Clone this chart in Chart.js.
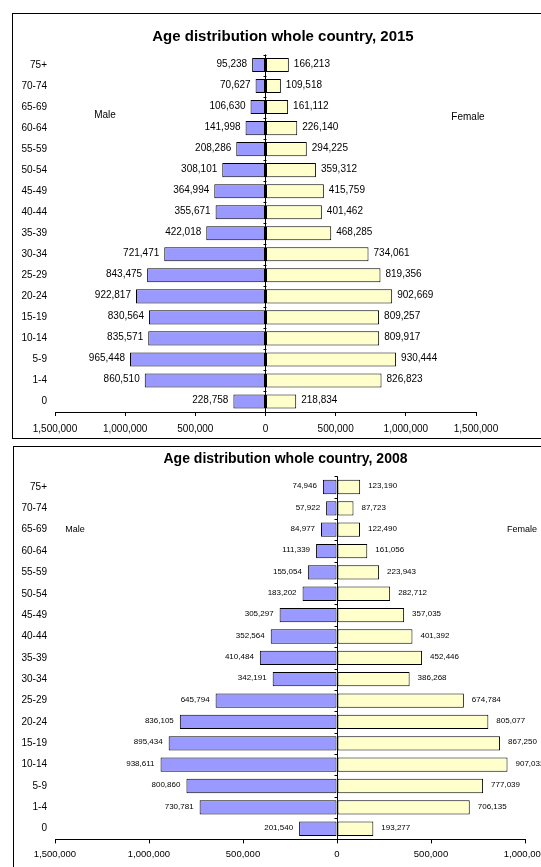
<!DOCTYPE html>
<html>
<head>
<meta charset="utf-8">
<script src="https://cdn.jsdelivr.net/npm/chart.js@4.4.1/dist/chart.umd.min.js"></script>
<style>
  html, body { margin: 0; padding: 0; background: #fff; width: 541px; height: 867px; overflow: hidden; }
  .panel { position: absolute; left: 0; }
  canvas { display: block; }
</style>
</head>
<body>
<div class="panel" style="top:0px"><canvas id="pyr2015" width="566" height="440"></canvas></div>
<div class="panel" style="top:440px"><canvas id="pyr2008" width="571" height="427"></canvas></div>
<script>
// Age groups, oldest at the top
const ageGroups = ['75+', '70-74', '65-69', '60-64', '55-59', '50-54', '45-49', '40-44',
                   '35-39', '30-34', '25-29', '20-24', '15-19', '10-14', '5-9', '1-4', '0'];

// Population 2015
const male2015   = [95238, 70627, 106630, 141998, 208286, 308101, 364994, 355671,
                    422018, 721471, 843475, 922817, 830564, 835571, 965448, 860510, 228758];
const female2015 = [166213, 109518, 161112, 226140, 294225, 359312, 415759, 401462,
                    468285, 734061, 819356, 902669, 809257, 809917, 930444, 826823, 218834];

// Population 2008
const male2008   = [74946, 57922, 84977, 111339, 155054, 183202, 305297, 352564,
                    410484, 342191, 645794, 836105, 895434, 938611, 800860, 730781, 201540];
const female2008 = [123190, 87723, 122490, 161056, 223943, 282712, 357035, 401392,
                    452446, 386268, 674784, 805077, 867250, 907032, 777039, 706135, 193277];

// Axis tick values (males plotted on the negative side)
const axisTicks2015 = [-1500000, -1000000, -500000, 0, 500000, 1000000, 1500000];
const axisTicks2008 = [-1500000, -1000000, -500000, 0, 500000, 1000000];

const FONT = '"Liberation Sans", Arial, Helvetica, sans-serif';
Chart.defaults.font.family = FONT;
Chart.defaults.color = '#000';

const fmt = v => Math.abs(v).toLocaleString('en-US');

// Frame, title, side captions, value labels and the small category ticks on the zero line
const pyramidDecor = {
  id: 'pyramidDecor',
  beforeDraw(chart, args, o) {
    const ctx = chart.ctx;
    ctx.save();
    ctx.fillStyle = '#fff';
    ctx.fillRect(0, 0, chart.width, chart.height);
    ctx.strokeStyle = '#000';
    ctx.lineWidth = 1;
    ctx.strokeRect(o.frame.x, o.frame.y, o.frame.w, o.frame.h);
    ctx.restore();
  },
  afterDatasetsDraw(chart, args, o) {
    const ctx = chart.ctx;
    const xs = chart.scales.x, ys = chart.scales.y;
    const x0 = Math.round(xs.getPixelForValue(0)) + 0.5;
    const half = (ys.getPixelForValue(1) - ys.getPixelForValue(0)) / 2;
    ctx.save();
    // category ticks along the zero line
    ctx.strokeStyle = '#000';
    ctx.lineWidth = 1;
    ctx.beginPath();
    for (let i = 0; i <= ageGroups.length; i++) {
      const y = Math.round(ys.getPixelForValue(0) - half + i * 2 * half) + 0.5;
      ctx.moveTo(x0 - 3, y);
      ctx.lineTo(x0, y);
    }
    ctx.stroke();
    // value labels
    ctx.font = o.valueFont + 'px ' + FONT;
    ctx.fillStyle = '#000';
    ctx.textBaseline = 'middle';
    const mMeta = chart.getDatasetMeta(0), fMeta = chart.getDatasetMeta(1);
    const mData = chart.data.datasets[0].data, fData = chart.data.datasets[1].data;
    mMeta.data.forEach((el, i) => {
      ctx.textAlign = 'right';
      ctx.fillText(fmt(mData[i]), el.x - o.gapMale, el.y - o.lift);
    });
    fMeta.data.forEach((el, i) => {
      ctx.textAlign = 'left';
      ctx.fillText(fmt(fData[i]), el.x + o.gapFemale, el.y - o.lift);
    });
    ctx.restore();
  },
  afterDraw(chart, args, o) {
    const ctx = chart.ctx;
    ctx.save();
    ctx.fillStyle = '#000';
    ctx.textAlign = 'center';
    ctx.textBaseline = 'middle';
    ctx.font = 'bold ' + o.titleFont + 'px ' + FONT;
    ctx.fillText(o.title, o.titleX, o.titleY);
    ctx.font = o.sideFont + 'px ' + FONT;
    ctx.fillText('Male', o.maleX, o.maleY);
    ctx.fillText('Female', o.femaleX, o.femaleY);
    ctx.restore();
  }
};

function pyramid(id, male, female, ticks, s) {
  return new Chart(document.getElementById(id), {
    type: 'bar',
    data: {
      labels: ageGroups,
      datasets: [
        { label: 'Male', data: male.map(v => -v), backgroundColor: '#9999FF',
          borderColor: '#000', borderWidth: 1, borderSkipped: false,
          categoryPercentage: 1, barPercentage: 0.67 },
        { label: 'Female', data: female, backgroundColor: '#FFFFCC',
          borderColor: '#000', borderWidth: 1, borderSkipped: false,
          categoryPercentage: 1, barPercentage: 0.67 }
      ]
    },
    options: {
      indexAxis: 'y',
      responsive: false,
      animation: false,
      devicePixelRatio: 1,
      layout: { padding: { top: s.top, right: s.right, bottom: 0, left: 0 } },
      plugins: {
        legend: { display: false },
        tooltip: { enabled: false },
        title: { display: false },
        pyramidDecor: s.decor
      },
      scales: {
        x: {
          type: 'linear',
          stacked: true,
          min: ticks[0],
          max: ticks[ticks.length - 1],
          afterBuildTicks: sc => { sc.ticks = ticks.map(v => ({ value: v })); },
          afterFit: sc => { sc.height = s.xHeight; },
          ticks: { callback: v => fmt(v), font: { size: s.tickFont }, color: '#000',
                   padding: s.tickPad, maxRotation: 0, autoSkip: false },
          grid: {
            drawOnChartArea: true,
            drawTicks: true,
            tickLength: 4,
            tickColor: '#000',
            lineWidth: 1,
            color: c => (c.tick && c.tick.value === 0) ? '#000' : 'rgba(0,0,0,0)'
          },
          border: { display: true, color: '#000', width: 1 }
        },
        y: {
          stacked: true,
          afterFit: sc => { sc.width = 55; },
          ticks: { font: { size: 10 }, color: '#000', padding: 8 },
          grid: { display: false, drawTicks: false },
          border: { display: false }
        }
      }
    },
    plugins: [pyramidDecor]
  });
}

pyramid('pyr2015', male2015, female2015, axisTicks2015, {
  top: 54.5, right: 90, xHeight: 28, tickFont: 10, tickPad: 7,
  decor: {
    frame: { x: 12.5, y: 13.5, w: 600, h: 425 },
    title: 'Age distribution whole country, 2015', titleFont: 15, titleX: 283, titleY: 37,
    sideFont: 10, maleX: 105, maleY: 115, femaleX: 468, femaleY: 117,
    valueFont: 10, gapMale: 5, gapFemale: 5, lift: 1
  }
});

pyramid('pyr2008', male2008, female2008, axisTicks2008, {
  top: 36.3, right: 46, xHeight: 27.6, tickFont: 9.5, tickPad: 5,
  decor: {
    frame: { x: 13.5, y: 6.5, w: 600, h: 500 },
    title: 'Age distribution whole country, 2008', titleFont: 14, titleX: 285.5, titleY: 19.3,
    sideFont: 9, maleX: 75, maleY: 90, femaleX: 522, femaleY: 90,
    valueFont: 8, gapMale: 6, gapFemale: 8, lift: 1
  }
});
</script>
</body>
</html>
